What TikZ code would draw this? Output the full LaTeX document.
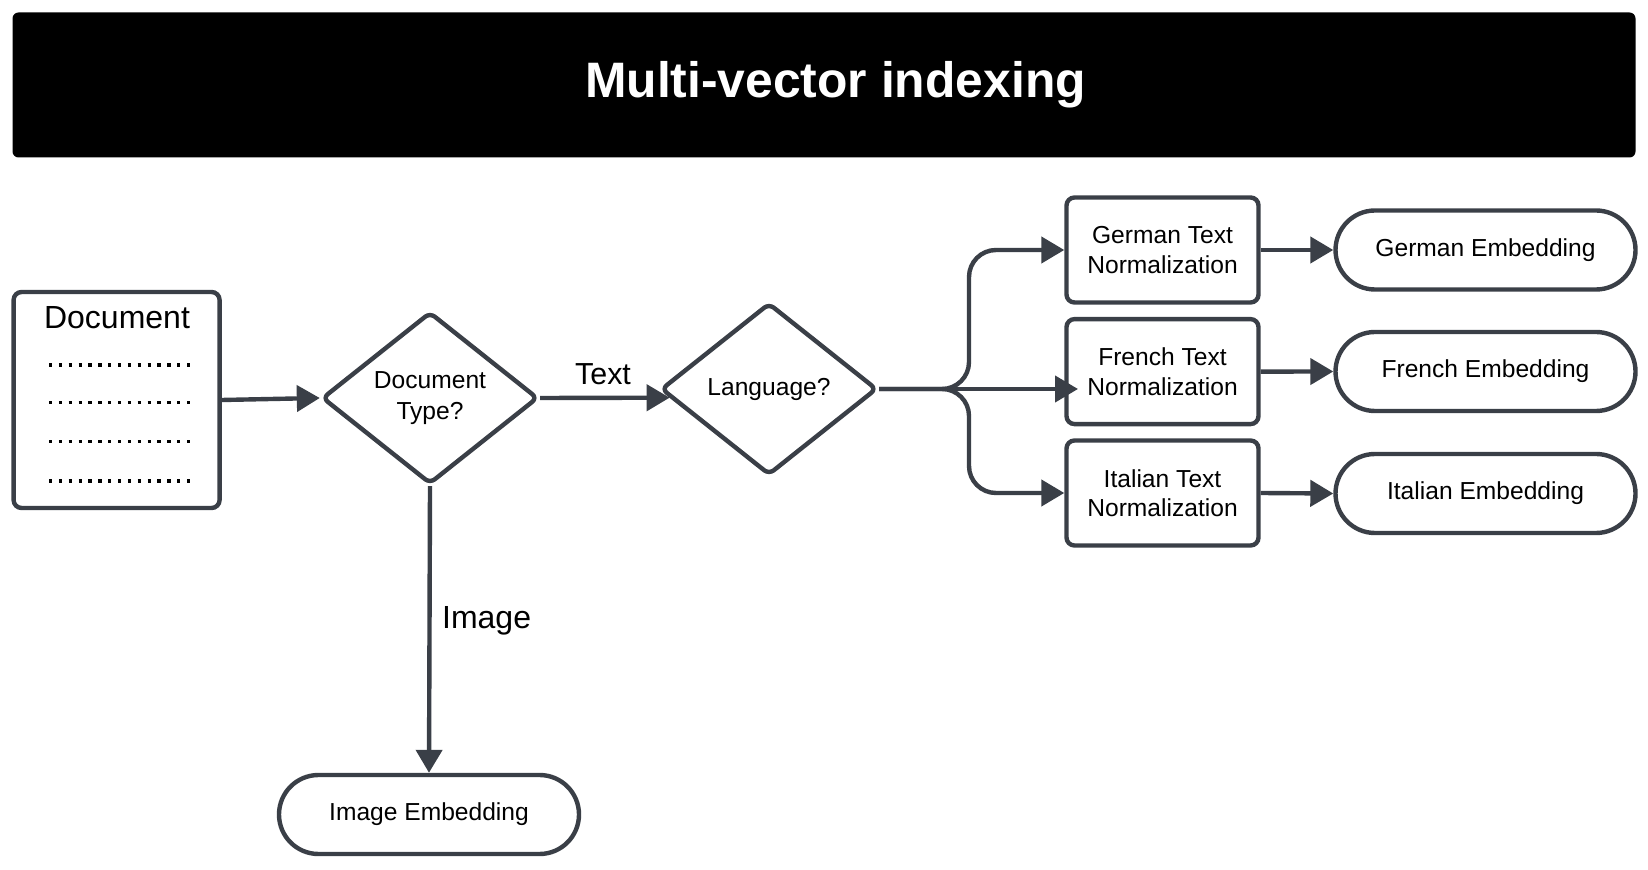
\documentclass[tikz,border=0pt]{standalone}
\usepackage{fontspec}
\setmainfont{Liberation Sans}
\usetikzlibrary{shapes.geometric,arrows.meta}
\definecolor{edgegray}{HTML}{3A3F47}
\tikzset{
  box/.style={draw=edgegray, line width=2.2pt, rounded corners=4pt, minimum width=96pt, minimum height=52.5pt, inner sep=0pt, align=center, font=\fontsize{12.3}{14.7}\selectfont},
  decision/.style={draw=edgegray, line width=2.2pt, diamond, aspect=1.25, rounded corners=3pt, minimum width=108pt, minimum height=86pt, inner sep=0pt, align=center, font=\fontsize{12.3}{15.2}\selectfont},
  terminal/.style={draw=edgegray, line width=2.2pt, rounded corners=19.75pt, minimum width=150pt, minimum height=39.5pt, inner sep=0pt, font=\fontsize{12.3}{14.7}\selectfont},
  conn/.style={draw=edgegray, line width=2.2pt, -{Triangle[length=11.5pt,width=13pt]}},
  dotrow/.style={draw=black, line width=1.6pt, dash pattern=on 1.6pt off 3.33pt},
  lbl/.style={anchor=base, font=\fontsize{15.2}{18}\selectfont},
}
\begin{document}
\begin{tikzpicture}[x=0.5pt,y=-0.5pt]
  \useasboundingbox (0,0) rectangle (1648,870);
  % title bar
  \node[fill=black, rounded corners=3pt, minimum width=811.5pt, minimum height=72.5pt, inner sep=0pt] (bar) at (824,85) {};
  \node[anchor=base, text=white, font=\bfseries\fontsize{24.9}{30}\selectfont] (title) at (835.5,97.7) {Multi-vector indexing};
  % document
  \node[draw=edgegray, line width=2.2pt, rounded corners=4pt, minimum width=103pt, minimum height=108pt, inner sep=0pt] (doc) at (116.6,400) {};
  \node[anchor=base, font=\fontsize{16}{19}\selectfont] (doclabel) at (117,329) {Document};
  \draw[dotrow] (49,365) -- (190,365);
  \draw[dotrow] (49,402.5) -- (190,402.5);
  \draw[dotrow] (49,441.5) -- (190,441.5);
  \draw[dotrow] (49,481) -- (190,481);
  % decisions
  \node[decision] (doctype) at (430,398) {Document\\Type?};
  \node[decision] (lang) at (769,389) {Language?};
  \node[lbl] (textlbl) at (603,384.7) {Text};
  \node[lbl, font=\fontsize{16}{19}\selectfont] (imglbl) at (486.6,628.5) {Image};
  % normalization
  \node[box] (denorm) at (1162.5,250) {German Text\\Normalization};
  \node[box] (frnorm) at (1162.5,371.6) {French Text\\Normalization};
  \node[box] (itnorm) at (1162.5,493) {Italian Text\\Normalization};
  % embeddings
  \node[terminal] (deemb) at (1485.5,250) {German Embedding};
  \node[terminal] (fremb) at (1485.5,371.5) {French Embedding};
  \node[terminal] (itemb) at (1485.5,493.5) {Italian Embedding};
  \node[terminal] (imgemb) at (429,814.5) {Image Embedding};
  \coordinate (fork) at (969,389);
  \coordinate (frtip) at (1078,389);
  % connectors
  \draw[conn] (doc.east) -- (doctype.west);
  \draw[conn] (doctype.east) -- (lang.185);
  \draw[conn, rounded corners=13.5pt] (lang.east) -- (fork) |- (denorm.west);
  \draw[conn, rounded corners=13.5pt] (lang.east) -- (fork) |- (itnorm.west);
  \draw[conn] (lang.east) -- (frtip);
  \draw[conn] (denorm.east) -- (deemb.west);
  \draw[conn] (frnorm.east) -- (fremb.west);
  \draw[conn] (itnorm.east) -- (itemb.west);
  \draw[conn] (doctype.south) -- (imgemb.north);
\end{tikzpicture}
\end{document}
